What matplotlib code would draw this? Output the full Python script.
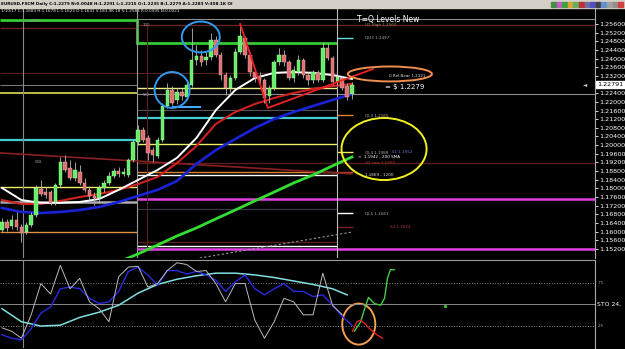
import matplotlib.pyplot as plt
from matplotlib.patches import Ellipse, Rectangle
import numpy as np

# daily candles, EURUSD (bar index 0..72)
opens = [1.1608, 1.1645, 1.1626, 1.1654, 1.1622, 1.1598, 1.1631, 1.1677, 1.1797, 1.1783,
         1.1783, 1.1737, 1.1816, 1.1922, 1.1894, 1.1848, 1.1876, 1.1825, 1.1793, 1.1765,
         1.1756, 1.1802, 1.1825, 1.1857, 1.1880, 1.1867, 1.1862, 1.1931, 1.2015, 1.2070,
         1.2033, 1.1977, 1.1950, 1.2024, 1.2181, 1.2255, 1.2209, 1.2246, 1.2223, 1.2278,
         1.2394, 1.2412, 1.2394, 1.2407, 1.2486, 1.2417, 1.2324, 1.2264, 1.2310, 1.2431,
         1.2495, 1.2417, 1.2338, 1.2320, 1.2301, 1.2227, 1.2264, 1.2384, 1.2417, 1.2384,
         1.2310, 1.2338, 1.2394, 1.2324, 1.2301, 1.2334, 1.2301, 1.2449, 1.2403, 1.2292,
         1.2310, 1.2273, 1.2235]
closes = [1.1645, 1.1617, 1.1654, 1.1622, 1.1594, 1.1631, 1.1677, 1.1802, 1.1774, 1.1769,
          1.1733, 1.1816, 1.1922, 1.1885, 1.1848, 1.1885, 1.1825, 1.1793, 1.1765, 1.1756,
          1.1802, 1.1825, 1.1857, 1.1880, 1.1867, 1.1876, 1.1931, 1.2015, 1.2070, 1.2024,
          1.1964, 1.1954, 1.2024, 1.2181, 1.2255, 1.2195, 1.2246, 1.2227, 1.2278, 1.2394,
          1.2412, 1.2384, 1.2407, 1.2486, 1.2417, 1.2324, 1.2264, 1.2310, 1.2431, 1.2505,
          1.2417, 1.2338, 1.2310, 1.2301, 1.2218, 1.2264, 1.2384, 1.2417, 1.2384, 1.2310,
          1.2347, 1.2394, 1.2324, 1.2301, 1.2338, 1.2301, 1.2449, 1.2403, 1.2292, 1.2315,
          1.2264, 1.2223, 1.2279]
highs = [1.1663, 1.1659, 1.1677, 1.1691, 1.1635, 1.1645, 1.1691, 1.1816, 1.1839, 1.1807,
         1.1793, 1.1825, 1.1945, 1.1954, 1.1931, 1.1922, 1.1908, 1.1848, 1.1811, 1.1783,
         1.1816, 1.1839, 1.1876, 1.1894, 1.1899, 1.1894, 1.1941, 1.2024, 1.2093, 1.2084,
         1.2047, 1.1991, 1.2038, 1.2195, 1.2287, 1.2273, 1.2264, 1.2264, 1.2301, 1.2542,
         1.2463, 1.2440, 1.2431, 1.2518, 1.2505, 1.2431, 1.2338, 1.2324, 1.2449, 1.2555,
         1.2505, 1.2431, 1.2347, 1.2338, 1.2310, 1.2278, 1.2394, 1.2449, 1.2440, 1.2394,
         1.2366, 1.2417, 1.2403, 1.2338, 1.2347, 1.2347, 1.2477, 1.2472, 1.2412, 1.2324,
         1.2320, 1.2287, 1.2291]
lows = [1.1598, 1.1603, 1.1612, 1.1608, 1.1552, 1.1589, 1.1622, 1.1668, 1.1765, 1.1756,
        1.1723, 1.1723, 1.1807, 1.1876, 1.1839, 1.1834, 1.1816, 1.1783, 1.1746, 1.1723,
        1.1733, 1.1783, 1.1816, 1.1848, 1.1853, 1.1857, 1.1853, 1.1922, 1.2001, 1.2015,
        1.1931, 1.1922, 1.1941, 1.2015, 1.2172, 1.2186, 1.2190, 1.2209, 1.2209, 1.2269,
        1.2370, 1.2366, 1.2370, 1.2394, 1.2407, 1.2301, 1.2232, 1.2246, 1.2301, 1.2421,
        1.2403, 1.2320, 1.2292, 1.2278, 1.2195, 1.2195, 1.2255, 1.2370, 1.2366, 1.2301,
        1.2292, 1.2324, 1.2310, 1.2278, 1.2287, 1.2292, 1.2292, 1.2394, 1.2278, 1.2278,
        1.2255, 1.2209, 1.2215]

# moving averages, read every 4th bar
ma_idx = list(range(0, 73, 4))
ma_white = [1.1802, 1.1746, 1.1733, 1.1733, 1.1737, 1.1751, 1.1793, 1.1839, 1.1885, 1.1941,
            1.2033, 1.2162, 1.2255, 1.2310, 1.2334, 1.2338, 1.2334, 1.2324, 1.2306]
ma_red = [1.1746, 1.1728, 1.1728, 1.1742, 1.1760, 1.1774, 1.1793, 1.1820, 1.1853, 1.1917,
          1.1996, 1.2098, 1.2153, 1.2190, 1.2218, 1.2241, 1.2260, 1.2273, 1.2283]
ma_blue = [1.1709, 1.1691, 1.1686, 1.1691, 1.1700, 1.1714, 1.1737, 1.1765, 1.1793, 1.1834,
           1.1913, 1.1977, 1.2028, 1.2079, 1.2121, 1.2153, 1.2181, 1.2209, 1.2236]
sma200_idx = [25, 28, 32, 36, 40, 44, 48, 52, 56, 60, 64, 68, 72]
sma200 = [1.1469, 1.1497, 1.1538, 1.1580, 1.1617, 1.1659, 1.1700, 1.1742, 1.1783, 1.1825,
          1.1862, 1.1904, 1.1945]

# level lines: (price, from bar, to bar)
L0, B, E, S, R = -0.5, 27.8, 68.9, 72.2, 122.0
levels = [(1.2578, L0, B), (1.2472, B, E), (1.2542, L0, B), (1.2555, B, R), (1.2583, B, R),
          (1.2334, L0, E), (1.2278, L0, B), (1.2236, B, R), (1.2264, B, E), (1.2241, L0, B),
          (1.2162, B, E), (1.2126, B, E), (1.2024, L0, B), (1.2005, B, E), (1.1807, L0, B),
          (1.1918, B, R), (1.1876, B, E), (1.1598, L0, B), (1.1862, B, E), (1.1737, L0, B),
          (1.1751, B, R), (1.1705, B, E), (1.1552, B, E), (1.1534, B, E), (1.1520, B, R),
          (1.2497, E, S), (1.2139, E, S), (1.1968, E, S), (1.1876, E, S), (1.1686, E, S),
          (1.1622, E, S)]
level_styles = [('#33cc33', 2.0), ('#33cc33', 2.0), ('#6a2323', 1.0), ('#6a2323', 1.0),
                ('#8c8c8c', 0.8), ('#5a2020', 0.8), ('#777777', 0.8), ('#8c8c8c', 0.8),
                ('#eeee88', 1.0), ('#dddd55', 1.2), ('#555555', 0.8), ('#44cccc', 1.6),
                ('#44cccc', 1.6), ('#eeee66', 1.0), ('#eeee66', 1.0), ('#5a1c1c', 1.0),
                ('#e08030', 1.0), ('#e09040', 1.0), ('#ffffff', 1.0), ('#aaaaaa', 1.8),
                ('#e040e0', 1.8), ('#333344', 1.0), ('#5a1c1c', 1.0), ('#ffffff', 1.0),
                ('#e040e0', 1.8), ('#66dddd', 1.0), ('#e08030', 1.0), ('#eeee66', 1.0),
                ('#c04020', 1.0), ('#ffffff', 1.0), ('#7a2020', 1.0)]

level_labels = ['LD High 1.2560', 'QH3 1.2497', 'QL3 1.2165', 'QL4 1.1988', 'LD Low 1.1909',
                '1.1869 - 1200', 'QL5 1.1681']
label_prices = [1.2555, 1.2497, 1.2139, 1.1968, 1.1918, 1.1862, 1.1686]
label_colors = ['#888855', '#aaaaaa', '#aaaaaa', '#aaaaaa', '#aa3333', '#dddddd', '#aaaaaa']

# stochastic pane
sto_idx = list(range(0, 73, 2))
sto_k = [23, 19, 11, 38, 74, 62, 95, 68, 80, 53, 45, 30, 82, 93, 94, 70, 74, 89, 98, 96,
         88, 89, 74, 53, 74, 74, 32, 11, 30, 57, 53, 38, 38, 86, 49, 38, 15]
sto_d = [15, 11, 9, 22, 40, 47, 68, 70, 68, 57, 51, 53, 65, 88, 93, 84, 72, 89, 89, 85,
         88, 84, 78, 65, 76, 84, 68, 61, 68, 74, 65, 65, 59, 61, 49, 36, 26]
sto_ma_idx = list(range(0, 69, 4)) + [71]
sto_ma = [45, 30, 25, 26, 35, 41, 49, 63, 73, 79, 83, 86, 86, 84, 81, 77, 73, 68, 61]
proj_up_idx = [72.5, 73.8, 74.6, 75.4, 76.6, 77.9, 78.7, 79.3, 79.9, 80.7]
proj_up = [19, 30, 45, 58, 51, 49, 57, 80, 90, 90]
proj_dn_idx = [72.1, 73.0, 73.8, 74.6, 75.8, 77.1, 78.3]
proj_dn = [19, 30, 32, 28, 21, 15, 11]

plt.rcParams['font.family'] = ['DejaVu Sans']
W, H = 625.0, 349.0
fig = plt.figure(figsize=(6.25, 3.49), dpi=100, facecolor='black')
ax = fig.add_axes([0, 91 / H, 595 / W, 250 / H], facecolor='black')
st = fig.add_axes([0, 1 / H, 595 / W, 88 / H], facecolor='black')
xlo, xhi = -0.41, 122.0
ax.set_xlim(xlo, xhi)
ax.set_ylim(1.1478, 1.2634)
st.set_xlim(xlo, xhi)
st.set_ylim(-0.3, 101.2)

# title bar + toolbar
fig.patches.append(Rectangle((0, 1 - 8 / H), 1, 8 / H, transform=fig.transFigure,
                             color='#d4d0c8', zorder=0))
fig.text(0.002, 1 - 4.3 / H, 'EURUSD,FXCM Daily C:1.2279 N:0.0048 H:1.2291 L:1.2215 '
         'O:1.2235 B:1.2279 A:1.2283 V:308.1K OI', fontsize=3.0, color='black',
         va='center', fontweight='bold')
icon_cols = ['#4a8a4a', '#c060c0', '#40a040', '#e0a030', '#60b060', '#c03030',
             '#7070a0', '#5050c0', '#404040', '#6090d0', '#a0a0a0', '#909090', '#d04040']
for i, col in enumerate(icon_cols):
    fig.patches.append(Rectangle(((551 + i * 5.6) / W, 1 - 7 / H), 4.6 / W, 5.5 / H,
                                 transform=fig.transFigure, color=col, zorder=1))
fig.text(0.002, 1 - 11 / H, '1/10/17 C:1.1683 H:1.1678 L:1.1623 O:1.1641 V:183.9K 18 '
         'S:1.2583 R:0.0095 N:0.0021', fontsize=3.0, color='#eeeeee', va='center')

# level lines
for (p, a, b), (col, lw) in zip(levels, level_styles):
    ax.plot([a, b], [p, p], color=col, lw=lw, zorder=1, solid_capstyle='butt')
ax.plot([B, B], [1.2472, 1.2578], color='#33cc33', lw=2.0, zorder=1)
ax.plot([B, B], [1.2542, 1.2555], color='#6a2323', lw=1.0, zorder=1)
ax.plot([29.8, 29.8], [1.1534, 1.2555], color='#5a2020', lw=0.8, zorder=1)
for xv, col in [(4.3, '#888888'), (B, '#999999'), (E, '#bbbbbb')]:
    ax.axvline(xv, color=col, lw=0.8, zorder=1)
st.axvline(4.3, color='#888888', lw=0.8)
ax.plot([L0, 72], [1.1964, 1.1867], color='#8a2020', lw=1.2, zorder=1)
ax.plot([40.7, 72], [1.1478, 1.1598], color='#999999', lw=0.8, ls=(0, (2, 2)), zorder=1)
ax.plot([35.2, 40.7], [1.2176, 1.2176], color='#44aaff', lw=1.5, zorder=5)

# moving averages
ax.plot(sma200_idx, sma200, color='#33dd33', lw=2.0, zorder=2)
ax.plot(ma_idx, ma_blue, color='#1a22d8', lw=1.9, zorder=2)
ax.plot(ma_idx, ma_red, color='#d02020', lw=1.5, zorder=2)
ax.plot(ma_idx, ma_white, color='white', lw=1.4, zorder=2)
ax.plot([49.0, 54.7, 76.3], [1.2560, 1.2172, 1.2352], color='#ee2222', lw=1.3, zorder=5)

# candles
x = np.arange(len(closes))
o, c = np.array(opens), np.array(closes)
up = c >= o
ax.vlines(x, lows, highs, color='#b8b8b8', lw=0.6, zorder=3)
body_lo = np.minimum(o, c)
body_h = np.maximum(np.abs(c - o), 0.0003)
ax.bar(x[up], body_h[up], bottom=body_lo[up], width=0.72, color='#66ee66',
       edgecolor='#aaffaa', lw=0.3, zorder=4)
ax.bar(x[~up], body_h[~up], bottom=body_lo[~up], width=0.72, color='#e07070',
       edgecolor='#f0b0b0', lw=0.3, zorder=4)

# marks
ax.add_patch(Ellipse((35.0, 1.2255), 7.2, 0.0166, fill=False, ec='#3399ee', lw=1.4, zorder=6))
ax.add_patch(Ellipse((40.9, 1.2500), 7.8, 0.0143, fill=False, ec='#3399ee', lw=1.4, zorder=6))
ax.add_patch(Ellipse((79.8, 1.2329), 17.3, 0.0069, fill=False, ec='#f09050', lw=1.4, zorder=6))
ax.add_patch(Ellipse((78.6, 1.1982), 17.5, 0.0287, fill=False, ec='#f0f020', lw=1.4, zorder=6))

# texts
ax.text(73.0, 1.2579, 'T=Q Levels New', color='white', fontsize=5.5, va='center')
for lab, p, col in zip(level_labels, label_prices, label_colors):
    ax.text(74.7, p, lab, color=col, fontsize=3.0, va='center')
ax.text(79.6, 1.2320, '0 Rel.Bear 1.2321', color='#dddddd', fontsize=3.0, va='center')
ax.text(78.8, 1.2269, '= $ 1.2279', color='white', fontsize=5.0, va='center')
ax.text(80.2, 1.1968, 'S1 1.1952', color='#6677cc', fontsize=3.0, va='center')
ax.text(73.3, 1.1945, '<  1.1942 - 200 SMA', color='white', fontsize=3.0, va='center')
ax.text(79.8, 1.1622, 'S2 1.1624', color='#aa3333', fontsize=3.0, va='center')
ax.text(29.0, 1.2557, '100', color='#999999', fontsize=2.8, va='center')
ax.text(29.0, 1.2232, '500', color='#999999', fontsize=2.8, va='center')
ax.text(5.3, 1.2575, '1.2586', color='#999999', fontsize=2.8, va='center')
ax.text(6.8, 1.1922, '008', color='#88aa88', fontsize=2.8, va='center')
ax.text(120.5, 1.2279, '\u25c4', color='#cccccc', fontsize=4, va='center', ha='right')

# price axis
ticks = [t for t in np.arange(1.152, 1.2561, 0.004) if abs(t - 1.228) > 1e-6]
ax.yaxis.tick_right()
ax.set_yticks(ticks)
ax.set_yticklabels(['%.5f' % t for t in ticks])
ax.tick_params(axis='y', colors='white', labelsize=4.6, length=2, width=0.6, pad=1)
ax.set_xticks([])
for sp in ['top', 'left', 'bottom']:
    ax.spines[sp].set_visible(False)
ax.spines['right'].set_color('#aaaaaa')
ax.spines['right'].set_linewidth(0.8)
ax.text(1.004, 1.2279, '1.22791', transform=ax.get_yaxis_transform(), fontsize=4.6,
        color='black', va='center', ha='left',
        bbox=dict(boxstyle='square,pad=0.15', fc='white', ec='white'))

# stochastic pane
for lv, ls in [(75, ':'), (50, '-'), (25, ':')]:
    st.axhline(lv, color='#8a8a8a', lw=0.7, ls=ls)
st.plot(sto_ma_idx, sto_ma, color='#80e0e0', lw=1.1)
st.plot(sto_idx, sto_d, color='#2a2ae0', lw=1.0)
st.plot(sto_idx[:-1], sto_k[:-1], color='#bbbbbb', lw=0.7)
st.plot(proj_up_idx, proj_up, color='#44cc44', lw=1.0)
st.plot(proj_dn_idx, proj_dn, color='#dd2222', lw=1.0)
st.plot([91.1], [48], 's', color='#33bb33', ms=1.2)
st.add_patch(Ellipse((73.4, 27.3), 6.8, 47.3, fill=False, ec='#f0a050', lw=1.4))
st.set_xticks([])
st.set_yticks([])
st.spines['left'].set_visible(False)
st.spines['bottom'].set_visible(False)
st.spines['top'].set_color('#999999')
st.spines['right'].set_color('#aaaaaa')
st.text(1.005, 75, '.75', transform=st.get_yaxis_transform(), color='#aaaaaa',
        fontsize=2.8, va='center')
st.text(1.005, 25, '.25', transform=st.get_yaxis_transform(), color='#aaaaaa',
        fontsize=2.8, va='center')
st.text(1.003, 50, 'STO 24,', transform=st.get_yaxis_transform(), color='white',
        fontsize=4.4, va='center')

fig.savefig('out.png', dpi=100, facecolor='black')
